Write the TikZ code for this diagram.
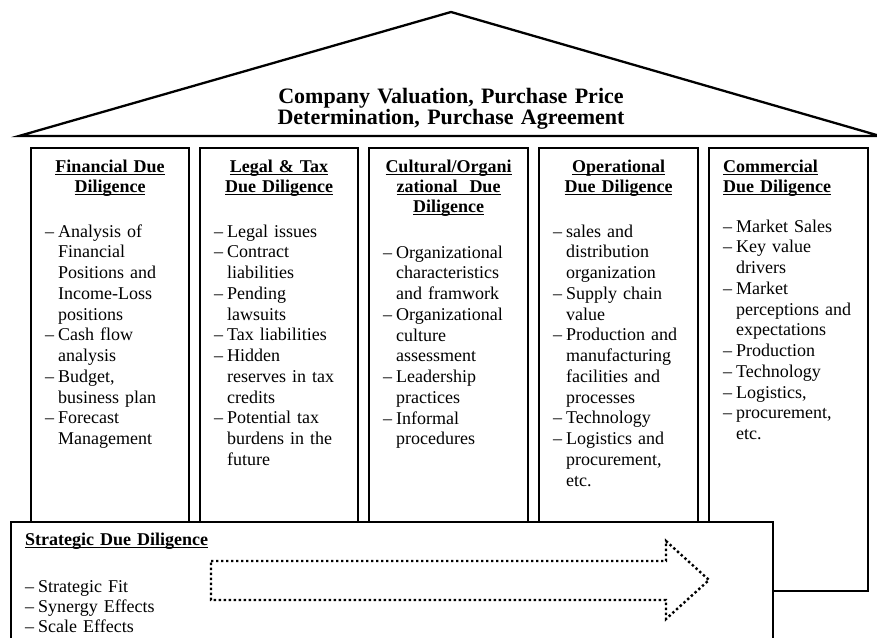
\documentclass[tikz,border=0pt]{standalone}
\usepackage{fontspec}
\setmainfont{Liberation Serif}

% underline at a fixed depth below the baseline
\newcommand\ulin[1]{\leavevmode\setbox0\hbox{#1}\rlap{\rule[-2.8pt]{\wd0}{0.9pt}}\box0}
% list dash and continuation indent
\newcommand\dsh{\makebox[13pt][l]{–}}
\newcommand\cnt{\hspace*{13pt}}

\tikzset{
  roofline/.style={line width=2.3pt, line join=miter},
  pillar/.style={draw, line width=1.4pt},
  head/.style={font=\fontsize{18}{20.2}\selectfont\bfseries, align=center,
    text width=156pt, inner sep=0pt, anchor=base},
  headl/.style={font=\fontsize{18}{20.2}\selectfont\bfseries, align=left,
    text width=140pt, inner sep=0pt, anchor=base west},
  body/.style={font=\fontsize{18}{20.75}\selectfont, align=left,
    text width=145pt, inner sep=0pt, anchor=base west},
  title/.style={font=\fontsize{22}{21}\selectfont\bfseries, align=center,
    text width=420pt, inner sep=0pt, anchor=base},
  dotarrow/.style={line width=2.4pt, dash pattern=on 2.4pt off 2.6pt, line join=miter},
}

\begin{document}
\begin{tikzpicture}[x=1pt,y=-1pt]
\useasboundingbox (0,0) rectangle (877,637);

% roof
\draw[roofline] (19,136) -- (451,12) -- (880,136) -- cycle;
\node[title] (roof) at (451,103)
  {Company Valuation, Purchase Price\\Determination, Purchase Agreement};

% pillars
\draw[pillar] (31,148) rectangle (189,522);
\draw[pillar] (200,148) rectangle (358,522);
\draw[pillar] (369,148) rectangle (528,522);
\draw[pillar] (539,148) rectangle (698,522);
\draw[pillar] (709,148) rectangle (868,591);

% strategic base
\fill[white] (11,522) rectangle (773,640);
\draw[line width=1.5pt] (11,640) -- (11,522) -- (773,522) -- (773,640);

% dotted block arrow
\draw[dotarrow] (211,561) -- (666,561) -- (666,541) -- (709,580)
  -- (666,619) -- (666,600) -- (211,600) -- cycle;

% pillar headings
\node[head] (h1) at (110,172) {\ulin{Financial Due}\\\ulin{Diligence}};
\node[head] (h2) at (279,172) {\ulin{Legal \& Tax}\\\ulin{Due Diligence}};
\node[head] (h3) at (448.5,172) {\ulin{Cultural/Organi}\\\ulin{zational\ \ Due}\\\ulin{Diligence}};
\node[head] (h4) at (618.5,172) {\ulin{Operational}\\\ulin{Due Diligence}};
\node[headl] (h5) at (723,172) {\ulin{Commercial}\\\ulin{Due Diligence}};

% pillar contents
\node[body] (b1) at (45,237) {\dsh Analysis of\\\cnt Financial\\\cnt Positions and\\\cnt Income-Loss\\\cnt positions\\\dsh Cash flow\\\cnt analysis\\\dsh Budget,\\\cnt business plan\\\dsh Forecast\\\cnt Management};
\node[body] (b2) at (214,237) {\dsh Legal issues\\\dsh Contract\\\cnt liabilities\\\dsh Pending\\\cnt lawsuits\\\dsh Tax liabilities\\\dsh Hidden\\\cnt reserves in tax\\\cnt credits\\\dsh Potential tax\\\cnt burdens in the\\\cnt future};
\node[body] (b3) at (383,258) {\dsh Organizational\\\cnt characteristics\\\cnt and framwork\\\dsh Organizational\\\cnt culture\\\cnt assessment\\\dsh Leadership\\\cnt practices\\\dsh Informal\\\cnt procedures};
\node[body] (b4) at (553,237) {\dsh sales and\\\cnt distribution\\\cnt organization\\\dsh Supply chain\\\cnt value\\\dsh Production and\\\cnt manufacturing\\\cnt facilities and\\\cnt processes\\\dsh Technology\\\dsh Logistics and\\\cnt procurement,\\\cnt etc.};
\node[body] (b5) at (723,232) {\dsh Market Sales\\\dsh Key value\\\cnt drivers\\\dsh Market\\\cnt perceptions and\\\cnt expectations\\\dsh Production\\\dsh Technology\\\dsh Logistics,\\\dsh procurement,\\\cnt etc.};

% strategic contents
\node[headl, text width=250pt] (hs) at (25,545) {\ulin{Strategic Due Diligence}};
\node[body, font=\fontsize{18}{20}\selectfont] (bs) at (25,592)
  {\dsh Strategic Fit\\\dsh Synergy Effects\\\dsh Scale Effects};
\end{tikzpicture}
\end{document}
